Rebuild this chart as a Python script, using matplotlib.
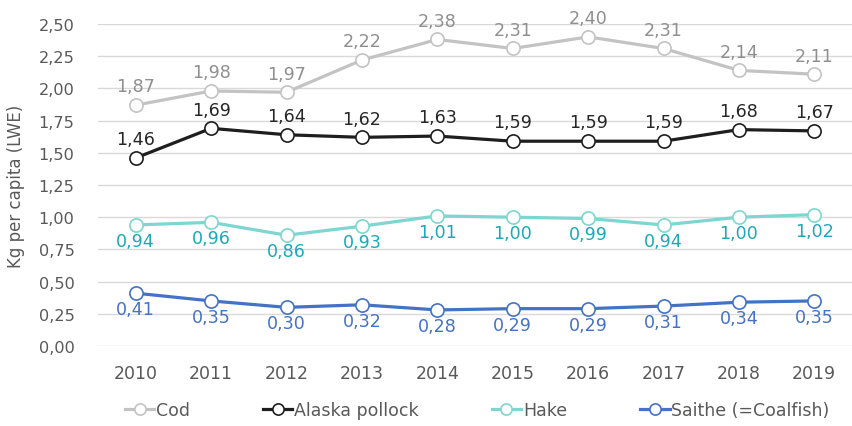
import numpy as np
import matplotlib
matplotlib.use('Agg')
import matplotlib.pyplot as plt

years = ['2010', '2011', '2012', '2013', '2014', '2015', '2016', '2017', '2018', '2019']
cod = [1.87, 1.98, 1.97, 2.22, 2.38, 2.31, 2.40, 2.31, 2.14, 2.11]
pollock = [1.46, 1.69, 1.64, 1.62, 1.63, 1.59, 1.59, 1.59, 1.68, 1.67]
hake = [0.94, 0.96, 0.86, 0.93, 1.01, 1.00, 0.99, 0.94, 1.00, 1.02]
saithe = [0.41, 0.35, 0.30, 0.32, 0.28, 0.29, 0.29, 0.31, 0.34, 0.35]

plt.rcParams['font.family'] = ['DejaVu Sans']

# (name, values, line colour, label colour, label above?)
series = [
    ('Cod', cod, '#c3c3c3', '#8f8f8f', True),
    ('Alaska pollock', pollock, '#1e1e1e', '#262626', True),
    ('Hake', hake, '#7dd6cf', '#1aa9b8', False),
    ('Saithe (=Coalfish)', saithe, '#4472c4', '#4472c4', False),
]

fig = plt.figure(figsize=(8.52, 4.27), dpi=100)
ax = fig.add_axes([98 / 852, 80 / 427, 754 / 852, 322 / 427])
x = np.arange(len(years))

for name, vals, lc, tc, above in series:
    ax.plot(x, vals, color=lc, lw=2.3, marker='o', ms=9.5, mfc='white',
            mec=lc, mew=1.2, label=name, zorder=3)
    for xi, v in zip(x, vals):
        txt = f'{v:.2f}'.replace('.', ',')
        ax.annotate(txt, (xi, v), xytext=(0, 7 if above else -5),
                    textcoords='offset points', ha='center',
                    va='bottom' if above else 'top', fontsize=12.6, color=tc,
                    zorder=4)

ax.set_xlim(-0.5, 9.5)
ax.set_ylim(0, 2.5)
ax.set_yticks(np.arange(0, 2.51, 0.25))
ax.set_yticklabels([f'{t:.2f}'.replace('.', ',') for t in np.arange(0, 2.51, 0.25)])
ax.set_xticks(x)
ax.set_xticklabels(years)
ax.grid(axis='y', color='#d9d9d9', lw=1)
ax.set_axisbelow(True)
for sp in ax.spines.values():
    sp.set_visible(False)
ax.tick_params(axis='both', length=0, colors='#595959')
ax.tick_params(axis='y', labelsize=11.6, pad=17)
ax.tick_params(axis='x', labelsize=12.5, pad=13)
ax.set_ylabel('Kg per capita (LWE)', fontsize=12, color='#595959', labelpad=10)

leg = fig.legend(loc='lower center', bbox_to_anchor=(0.56, -0.02), ncol=4,
                 frameon=False, fontsize=12.5, handlelength=1.7,
                 columnspacing=4.2, handletextpad=0.1, markerscale=0.85)
for t in leg.get_texts():
    t.set_color('#595959')

fig.savefig('out.png', dpi=100)
